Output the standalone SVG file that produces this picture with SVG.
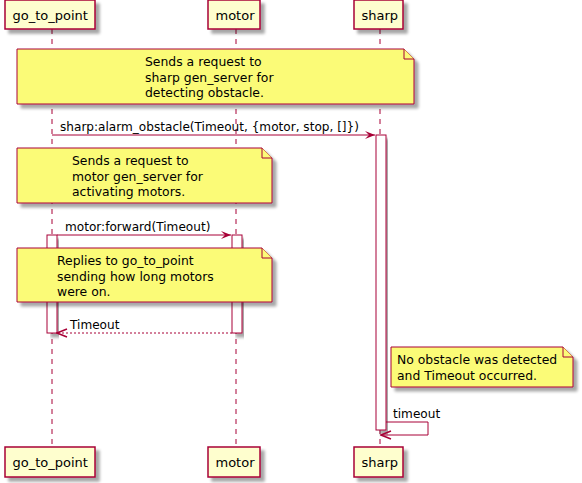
<svg xmlns="http://www.w3.org/2000/svg" width="582" height="483" viewBox="0 0 582 483">
<defs>
<filter id="sh" x="-10%" y="-10%" width="130%" height="140%">
<feGaussianBlur in="SourceAlpha" stdDeviation="1.8"/>
<feOffset dx="4" dy="4" result="b"/>
<feComponentTransfer><feFuncA type="linear" slope="0.35"/></feComponentTransfer>
<feMerge><feMergeNode/><feMergeNode in="SourceGraphic"/></feMerge>
</filter>
<marker id="ah" viewBox="0 0 10 8" refX="10" refY="4" markerWidth="10" markerHeight="8" markerUnits="userSpaceOnUse" orient="auto">
<polygon points="0,0 10,4 0,8 4,4" fill="#A80036"/>
</marker>
<marker id="ao" viewBox="-1 -1 12 10" refX="10" refY="4" markerWidth="12" markerHeight="10" markerUnits="userSpaceOnUse" orient="auto">
<polyline points="0,0 10,4 0,8" fill="none" stroke="#A80036" stroke-width="1.5"/>
</marker>
</defs>
<style>
.life{stroke:#A80036;stroke-width:1;stroke-dasharray:5,5;fill:none}
.part{fill:#FEFECE;stroke:#A80036;stroke-width:1.5}
.pt{font-family:"DejaVu Sans",sans-serif;font-size:13px;fill:#000}
.note{fill:#FBFB77;stroke:#A80036;stroke-width:1}
.nt{font-family:"DejaVu Sans",sans-serif;font-size:12.4px;fill:#000}
.act{fill:#FFFFFF;stroke:#A80036;stroke-width:1}
.msg{stroke:#A80036;stroke-width:1;fill:none}
.mt{font-family:"DejaVu Sans",sans-serif;font-size:12.1px;fill:#000}
</style>
<g id="lifelines">
<line class="life" x1="52" y1="29" x2="52" y2="447"/>
<line class="life" x1="236" y1="29" x2="236" y2="447"/>
<line class="life" x1="380" y1="29" x2="380" y2="447"/>
</g>
<g id="go_to_point">
<rect class="part" x="5" y="0" width="90" height="29" filter="url(#sh)"/>
<text class="pt" x="12.5" y="19.5">go_to_point</text>
<rect class="part" x="5" y="447" width="90" height="30" filter="url(#sh)"/>
<text class="pt" x="12.5" y="467">go_to_point</text>
</g>
<g id="motor">
<rect class="part" x="208" y="0" width="52" height="29" filter="url(#sh)"/>
<text class="pt" x="215.5" y="19.5">motor</text>
<rect class="part" x="208" y="447" width="52" height="30" filter="url(#sh)"/>
<text class="pt" x="215.5" y="467">motor</text>
</g>
<g id="sharp">
<rect class="part" x="354" y="0" width="49" height="29" filter="url(#sh)"/>
<text class="pt" x="361.5" y="19.5">sharp</text>
<rect class="part" x="354" y="447" width="49" height="30" filter="url(#sh)"/>
<text class="pt" x="361.5" y="467">sharp</text>
</g>
<g id="activations">
<rect class="act" x="376" y="135" width="10" height="295" filter="url(#sh)"/>
<rect class="act" x="47" y="235" width="10" height="98" filter="url(#sh)"/>
<rect class="act" x="232" y="235" width="10" height="98" filter="url(#sh)"/>
</g>
<g id="note1">
<path class="note" d="M17,49 L404,49 L414,59 L414,104 L17,104 Z" filter="url(#sh)"/>
<path class="note" d="M404,49 L404,59 L414,59"/>
<text class="nt" x="145" y="66">Sends a request to</text>
<text class="nt" x="145" y="81.5">sharp gen_server for</text>
<text class="nt" x="145" y="97">detecting obstacle.</text>
</g>
<g id="note2">
<path class="note" d="M17,148 L262,148 L272,158 L272,203 L17,203 Z" filter="url(#sh)"/>
<path class="note" d="M262,148 L262,158 L272,158"/>
<text class="nt" x="72" y="165">Sends a request to</text>
<text class="nt" x="72" y="180.5">motor gen_server for</text>
<text class="nt" x="72" y="196">activating motors.</text>
</g>
<g id="note3">
<path class="note" d="M17,248 L262,248 L272,258 L272,302 L17,302 Z" filter="url(#sh)"/>
<path class="note" d="M262,248 L262,258 L272,258"/>
<text class="nt" x="57" y="265">Replies to go_to_point</text>
<text class="nt" x="57" y="280.5">sending how long motors</text>
<text class="nt" x="57" y="296">were on.</text>
</g>
<g id="note4">
<path class="note" d="M391,347 L563,347 L573,357 L573,387 L391,387 Z" filter="url(#sh)"/>
<path class="note" d="M563,347 L563,357 L573,357"/>
<text class="nt" x="397" y="364">No obstacle was detected</text>
<text class="nt" x="397" y="379.5">and Timeout occurred.</text>
</g>
<g id="connectors">
<line class="msg" x1="52" y1="135" x2="375" y2="135" marker-end="url(#ah)"/>
<text class="mt" x="60" y="131">sharp:alarm_obstacle(Timeout, {motor, stop, []})</text>
<line class="msg" x1="57" y1="235" x2="231" y2="235" marker-end="url(#ah)"/>
<text class="mt" x="65" y="231">motor:forward(Timeout)</text>
<line class="msg" x1="232" y1="333" x2="57" y2="333" stroke-dasharray="2,2" marker-end="url(#ao)"/>
<text class="mt" x="70" y="329">Timeout</text>
<polyline class="msg" points="386,422 428,422 428,435 381,435" marker-end="url(#ao)"/>
<text class="mt" x="393" y="418">timeout</text>
</g>
</svg>
